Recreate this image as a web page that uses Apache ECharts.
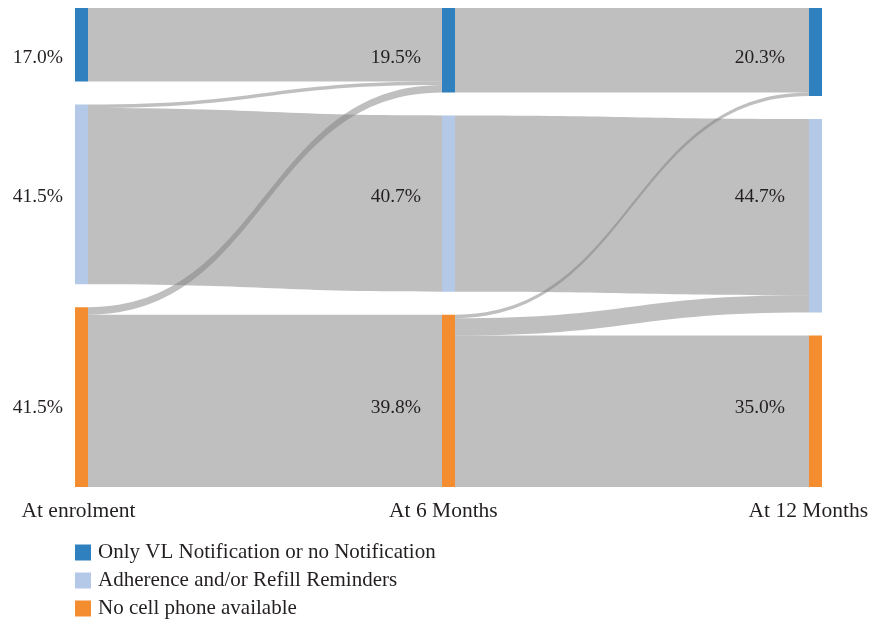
<!DOCTYPE html>
<html>
<head>
<meta charset="utf-8">
<script src="https://cdn.jsdelivr.net/npm/echarts@6/dist/echarts.min.js"></script>
<style>
html,body{margin:0;padding:0;background:#fff;}
#chart{width:871px;height:624px;}
</style>
</head>
<body>
<div id="chart"></div>
<script>
// ---- data ----
const stages = ['At enrolment', 'At 6 Months', 'At 12 Months'];
const categories = ['Only VL Notification or no Notification', 'Adherence and/or Refill Reminders', 'No cell phone available'];
// rows = from category, cols = to category (percent of patients)
const enrolTo6 = [[17.0, 0, 0], [0.8, 40.7, 0], [1.7, 0, 39.8]];
const m6To12 = [[19.5, 0, 0], [0, 40.7, 0], [0.8, 4.0, 35.0]];
const transitions = [enrolTo6, m6To12];

// ---- style ----
const colors = ['#2E80BE', '#B4C9E8', '#F48D30'];
const textColor = '#231F20';
const fontFam = '"Liberation Serif", "DejaVu Serif", serif';
const labelDistance = [12, 21, 24];
const labelDy = [[13, 2.5, 11], [8, -6.5, 7], [6, -19, -3]];

const nodes = [];
stages.forEach((s, si) => {
  categories.forEach((c, ci) => {
    nodes.push({
      name: si + '-' + ci,
      itemStyle: { color: colors[ci], borderWidth: 0 },
      label: { distance: labelDistance[si], offset: [0, labelDy[si][ci]] }
    });
  });
});
const links = [];
transitions.forEach((m, ti) => {
  m.forEach((row, a) => row.forEach((v, b) => {
    if (v > 0) links.push({ source: ti + '-' + a, target: (ti + 1) + '-' + b, value: v });
  }));
});

const chart = echarts.init(document.getElementById('chart'), null, { renderer: 'canvas' });
chart.setOption({
  animation: false,
  backgroundColor: '#fff',
  grid: { left: 78.5, right: 61, top: 8, height: 479 },
  xAxis: {
    type: 'category', data: stages, boundaryGap: false,
    axisLine: { show: false }, axisTick: { show: false }, splitLine: { show: false },
    axisLabel: { color: textColor, fontFamily: fontFam, fontSize: 21.5, margin: 13 }
  },
  yAxis: { type: 'value', show: false },
  legend: {
    orient: 'vertical', left: 75, top: 542, padding: 0,
    icon: 'rect', itemWidth: 16, itemHeight: 16, itemGap: 7,
    textStyle: { color: textColor, fontFamily: fontFam, fontSize: 21, lineHeight: 21, padding: [0, 0, 0, 2] },
    data: categories
  },
  series: [
    {
      type: 'sankey',
      left: 75, right: 49, top: 8, bottom: 137,
      nodeWidth: 13, nodeGap: 23, layoutIterations: 0,
      draggable: false,
      emphasis: { disabled: true },
      data: nodes,
      links: links,
      lineStyle: { color: '#808080', opacity: 0.5, curveness: 0.5 },
      label: {
        position: 'left', color: textColor, fontFamily: fontFam, fontSize: 19.5,
        formatter: p => p.value.toFixed(1) + '%'
      }
    }
  ].concat(categories.map((c, i) => ({
    name: c, type: 'line', data: [], itemStyle: { color: colors[i] }
  })))
});
</script>
</body>
</html>
